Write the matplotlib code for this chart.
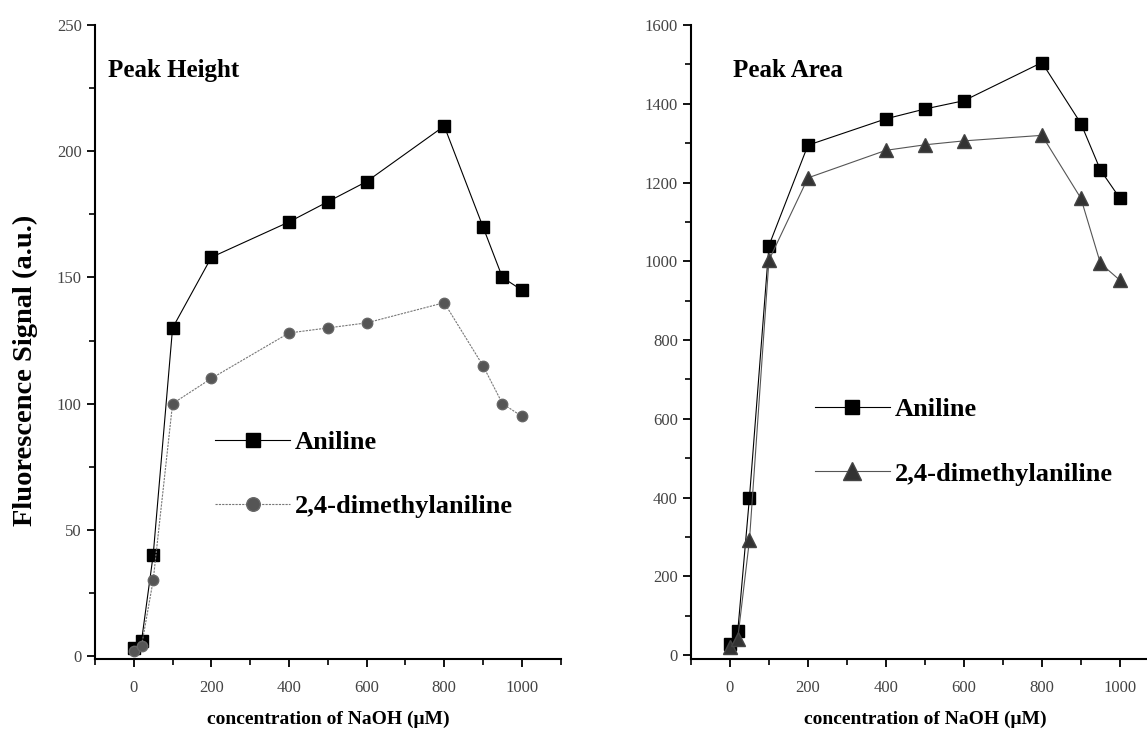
import matplotlib
matplotlib.use("Agg")
from matplotlib import pyplot as plt
from matplotlib.ticker import MultipleLocator

conc = [0, 20, 50, 100, 200, 400, 500, 600, 800, 900, 950, 1000]
height_aniline = [3, 6, 40, 130, 158, 172, 180, 188, 210, 170, 150, 145]
height_dma = [2, 4, 30, 100, 110, 128, 130, 132, 140, 115, 100, 95]
area_aniline = [28, 60, 400, 1040, 1295, 1362, 1387, 1408, 1505, 1350, 1232, 1160]
area_dma = [21, 42, 292, 1003, 1212, 1282, 1296, 1306, 1320, 1160, 995, 952]

plt.rcParams["font.family"] = ["Liberation Serif", "DejaVu Serif"]

fig = plt.figure(figsize=(11.47, 7.32), dpi=100)
ax1 = fig.add_axes([0.0828, 0.0997, 0.406, 0.866])
ax2 = fig.add_axes([0.6024, 0.0997, 0.408, 0.866])

ax1.plot(conc, height_aniline, color="black", lw=0.8, marker="s", ms=8,
         mfc="black", mec="black", label="Aniline")
ax1.plot(conc, height_dma, color="#777777", lw=0.8, ls=(0, (2, 1)), marker="o", ms=7.5,
         mfc="#555555", mec="#666666", label="2,4-dimethylaniline")

ax2.plot(conc, area_aniline, color="black", lw=0.8, marker="s", ms=8,
         mfc="black", mec="black", label="Aniline")
ax2.plot(conc, area_dma, color="#555555", lw=0.8, marker="^", ms=10,
         mfc="#333333", mec="#444444", label="2,4-dimethylaniline")

ax1.set_xlim(-100, 1100)
ax1.set_ylim(-1.2, 250)
ax2.set_xlim(-100, 1100)
ax2.set_ylim(-10, 1600)

ax1.yaxis.set_major_locator(MultipleLocator(50))
ax1.yaxis.set_minor_locator(MultipleLocator(25))
ax2.yaxis.set_major_locator(MultipleLocator(200))
ax2.yaxis.set_minor_locator(MultipleLocator(100))

for ax in (ax1, ax2):
    ax.xaxis.set_major_locator(MultipleLocator(200))
    ax.xaxis.set_minor_locator(MultipleLocator(100))
    for s in ("top", "right"):
        ax.spines[s].set_visible(False)
    for s in ("left", "bottom"):
        ax.spines[s].set_linewidth(1.5)
    ax.tick_params(which="major", direction="out", length=6, width=1.3,
                   labelsize=12, labelcolor="#444444")
    ax.tick_params(axis="x", which="major", pad=9)
    ax.tick_params(which="minor", direction="out", length=4, width=1.2)
    ax.set_xlabel("concentration of NaOH (μM)", fontsize=14, fontweight="bold",
                  labelpad=11)

ax1.set_ylabel("Fluorescence Signal (a.u.)", fontsize=20.5, fontweight="bold")
ax1.yaxis.set_label_coords(-0.123, 0.456)

ax1.text(0.028, 0.929, "Peak Height", transform=ax1.transAxes, fontsize=18,
         fontweight="bold", va="center")
ax2.text(0.09, 0.929, "Peak Area", transform=ax2.transAxes, fontsize=18,
         fontweight="bold", va="center")

leg_font = {"size": 19, "weight": "bold"}
ax1.legend(loc="center left", bbox_to_anchor=(0.258, 0.291), frameon=False,
           prop=leg_font, handlelength=2.84, handletextpad=0.19, labelspacing=1.55,
           borderpad=0, borderaxespad=0, markerscale=1.3)
ax2.legend(loc="center left", bbox_to_anchor=(0.265, 0.343), frameon=False,
           prop=leg_font, handlelength=2.84, handletextpad=0.19, labelspacing=1.55,
           borderpad=0, borderaxespad=0, markerscale=1.3)

fig.savefig("out.png", dpi=100)
